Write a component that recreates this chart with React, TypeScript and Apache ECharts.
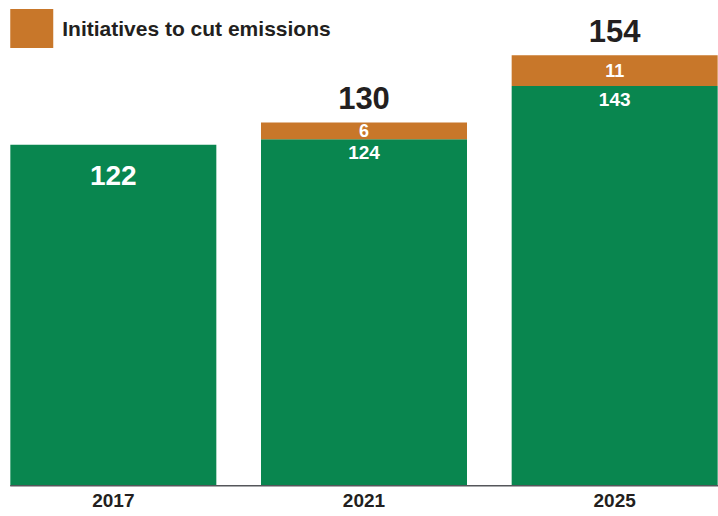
import React, { useEffect, useRef } from "react";
import * as echarts from "echarts";

const categories = ["2017", "2021", "2025"];
const baseValues = [122, 124, 143];
const initiativeValues: (number | null)[] = [null, 6, 11];
const totals: (number | null)[] = [null, 130, 154];
const legendName = "Initiatives to cut emissions";

const GREEN = "#09864F";
const ORANGE = "#C8772A";
const DARK = "#231F20";
const FONT = "'Liberation Sans', Arial, Helvetica, sans-serif";
const SHIFT = 12.25;

export default function App() {
  const ref = useRef<HTMLDivElement>(null);
  useEffect(() => {
    if (!ref.current) return;
    const chart = echarts.init(ref.current, undefined, { renderer: "svg" });
    const baseData = baseValues.map((v, i) => {
      const alone = initiativeValues[i] == null;
      return {
        value: v,
        label: alone
          ? { position: "insideTop", distance: 17, fontSize: 28, lineHeight: 28 }
          : { position: "insideTop", distance: 4, fontSize: 19, lineHeight: 19 },
      };
    });
    chart.setOption({
      animation: false,
      textStyle: { fontFamily: FONT },
      grid: { left: 0, right: 0, top: 10.5, bottom: 30, containLabel: false },
      legend: {
        data: [legendName],
        left: 10 + SHIFT,
        top: 9,
        padding: 0,
        itemWidth: 43,
        itemHeight: 39,
        icon: "rect",
        selectedMode: false,
        textStyle: {
          fontFamily: FONT,
          fontSize: 21,
          fontWeight: "bold",
          color: DARK,
          padding: [0, 0, 0, 4],
        },
      },
      xAxis: {
        type: "category",
        data: categories,
        axisLine: { show: false },
        axisTick: { show: false },
        axisLabel: {
          fontFamily: FONT,
          fontSize: 19,
          fontWeight: "bold",
          color: DARK,
          margin: 5,
          lineHeight: 19,
        },
      },
      yAxis: {
        type: "value",
        min: 0,
        max: 170,
        show: false,
        splitLine: { show: false },
      },
      series: [
        {
          name: "Base",
          type: "bar",
          stack: "s",
          barWidth: 206,
          data: baseData,
          itemStyle: { color: GREEN },
          label: {
            show: true,
            color: "#fff",
            fontWeight: "bold",
            fontFamily: FONT,
          },
        },
        {
          name: legendName,
          type: "bar",
          stack: "s",
          barWidth: 206,
          data: initiativeValues,
          itemStyle: { color: ORANGE },
          label: {
            show: true,
            position: "inside",
            color: "#fff",
            fontWeight: "bold",
            fontFamily: FONT,
            fontSize: 18,
          },
        },
        {
          name: "Total",
          type: "bar",
          stack: "s",
          barWidth: 206,
          data: totals.map((t) => (t == null ? null : 0)),
          itemStyle: { color: "transparent" },
          label: {
            show: true,
            position: "top",
            distance: 8,
            color: DARK,
            fontWeight: "bold",
            fontFamily: FONT,
            fontSize: 31,
            lineHeight: 31,
            formatter: (p: any) => (totals[p.dataIndex] == null ? "" : String(totals[p.dataIndex])),
          },
        },
      ],
      graphic: [
        {
          type: "rect",
          shape: { x: 10 + SHIFT, y: 485, width: 708, height: 1.6 },
          style: { fill: "#55565A" },
          z: 10,
        },
      ],
    });
    return () => chart.dispose();
  }, []);
  return (
    <div style={{ position: "absolute", left: 0, top: 0, width: 718, height: 516, overflow: "hidden" }}>
      <div ref={ref} style={{ position: "absolute", left: -SHIFT, top: 0, width: 751.5, height: 516 }} />
    </div>
  );
}
